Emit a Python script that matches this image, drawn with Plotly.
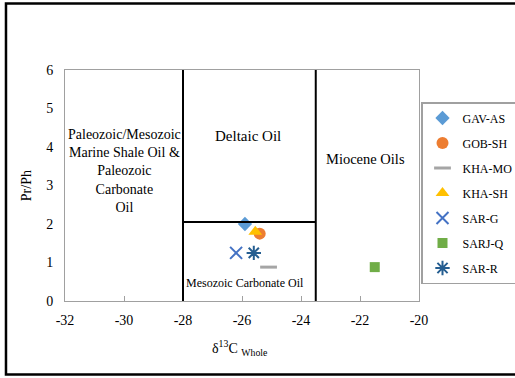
import plotly.graph_objects as go

# Data
samples = ["GAV-AS", "GOB-SH", "KHA-MO", "KHA-SH", "SAR-G", "SARJ-Q", "SAR-R"]
d13c = [-25.9, -25.4, -25.1, -25.55, -26.2, -21.5, -25.6]
pr_ph = [2.0, 1.75, 0.88, 1.8, 1.25, 0.88, 1.25]

# Field boundaries
boundary_x = [-28.0, -23.5]
boundary_y = [2.05]

region_labels = ["Paleozoic/Mesozoic<br>Marine Shale Oil &amp;<br>Paleozoic<br>Carbonate<br>Oil",
                 "Deltaic Oil", "Miocene Oils", "Mesozoic Carbonate Oil"]
region_x = [-30.0, -25.8, -21.8, -25.9]
region_y = [3.38, 4.28, 3.7, 0.47]
region_size = [14, 15, 14.5, 12]

x_ticks = [-32, -30, -28, -26, -24, -22, -20]
x_ticklabels = ["-32", "-30", "-28", "-26", "-24", "-22", "-20"]
y_ticks = [0, 1, 2, 3, 4, 5, 6]
y_ticklabels = ["0", "1", "2", "3", "4", "5", "6"]

styles = {
    "GAV-AS": dict(symbol="diamond", color="#5B9BD5", size=11),
    "GOB-SH": dict(symbol="circle", color="#ED7D31", size=12),
    "KHA-MO": dict(symbol="line-ew-open", color="#A5A5A5", size=12, line=dict(width=3, color="#A5A5A5")),
    "KHA-SH": dict(symbol="triangle-up", color="#FFC000", size=12),
    "SAR-G": dict(symbol="x-thin-open", color="#4472C4", size=12, line=dict(width=2, color="#4472C4")),
    "SARJ-Q": dict(symbol="square", color="#70AD47", size=10),
    "SAR-R": dict(symbol="asterisk-open", color="#255E91", size=12, line=dict(width=2, color="#255E91")),
}

FONT = "Liberation Serif"

fig = go.Figure()
for i, s in enumerate(samples):
    st = styles[s]
    marker = dict(symbol=st["symbol"], color=st["color"], size=st["size"])
    if "line" in st:
        marker["line"] = st["line"]
    else:
        marker["line"] = dict(width=0)
    fig.add_trace(go.Scatter(x=[d13c[i]], y=[pr_ph[i]], mode="markers", name=s,
                             marker=marker, legendgroup=s))

# Boundary lines
fig.add_shape(type="line", xref="x", yref="y", x0=boundary_x[0], x1=boundary_x[0], y0=0, y1=6,
              line=dict(color="black", width=2))
fig.add_shape(type="line", xref="x", yref="y", x0=boundary_x[1], x1=boundary_x[1], y0=0, y1=6,
              line=dict(color="black", width=2))
fig.add_shape(type="line", xref="x", yref="y", x0=boundary_x[0], x1=boundary_x[1], y0=boundary_y[0], y1=boundary_y[0],
              line=dict(color="black", width=2))

# Outer frame
fig.add_shape(type="rect", xref="paper", yref="paper", x0=-0.1667, x1=1.3, y0=-0.318, y1=1.288,
              line=dict(color="black", width=2.5), layer="below")

for lbl, x, y, sz in zip(region_labels, region_x, region_y, region_size):
    fig.add_annotation(x=x, y=y, xref="x", yref="y", text=lbl, showarrow=False,
                       font=dict(family=FONT, size=sz, color="black"), align="center")

fig.add_annotation(x=0.494, y=-0.255, xref="paper", yref="paper",
                   text="δ<sup>13</sup>C <sub>Whole</sub>", showarrow=False,
                   font=dict(family=FONT, size=14, color="black"))
fig.add_annotation(x=-0.135, y=0.5, xref="paper", yref="paper", text="Pr/Ph", textangle=-90,
                   showarrow=False, font=dict(family=FONT, size=14, color="black"))

fig.update_layout(
    width=515, height=378,
    margin=dict(l=65, r=96, t=70, b=77, autoexpand=False),
    paper_bgcolor="white", plot_bgcolor="white",
    font=dict(family=FONT, size=14, color="black"),
    showlegend=True,
    legend=dict(xref="container", yref="container", x=421/515, y=1 - 102/378, xanchor="left", yanchor="top",
                bordercolor="#A0A0A0", borderwidth=1.5, bgcolor="rgba(255,255,255,0)",
                font=dict(family=FONT, size=12, color="black"),
                tracegroupgap=6, itemwidth=30, traceorder="grouped"),
)
fig.update_xaxes(range=[-32, -20], tickvals=x_ticks, ticktext=x_ticklabels, ticks="inside", ticklen=5,
                 tickcolor="#A0A0A0", showline=True, linecolor="#A0A0A0", linewidth=1, mirror=True,
                 showgrid=False, zeroline=False, ticklabelstandoff=6, tickfont=dict(family=FONT, size=14))
fig.update_yaxes(range=[0, 6], tickvals=y_ticks, ticktext=y_ticklabels, ticks="", showline=True,
                 linecolor="#A0A0A0", linewidth=1, mirror=True, showgrid=False, zeroline=False,
                 ticklabelstandoff=8, tickfont=dict(family=FONT, size=14))

fig.write_html("out.html")
